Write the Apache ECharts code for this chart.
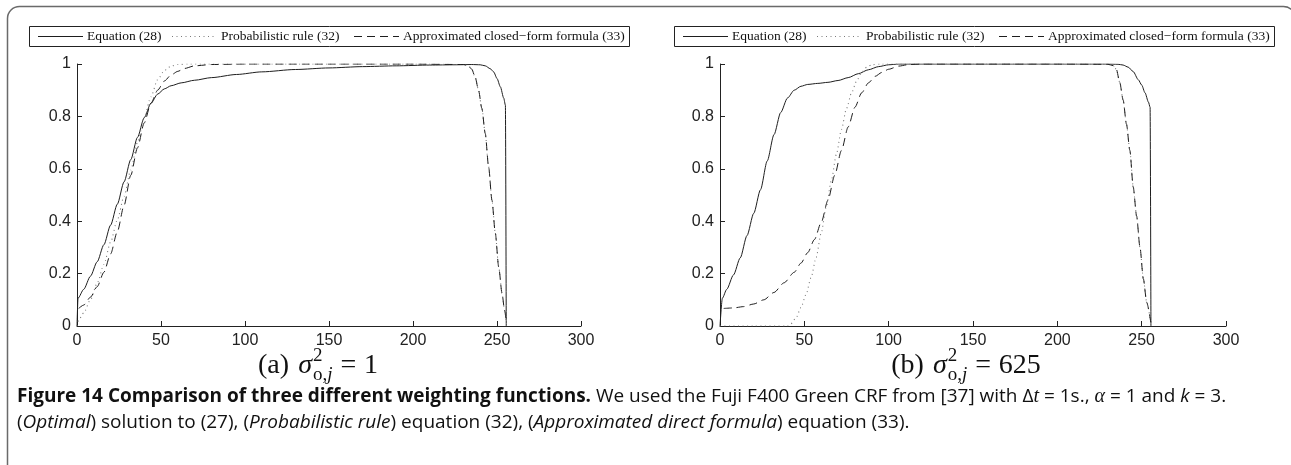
<!DOCTYPE html>
<html>
<head>
<meta charset="utf-8">
<script src="https://cdn.jsdelivr.net/npm/echarts@6/dist/echarts.min.js"></script>
<style>html,body{margin:0;padding:0;background:#fff;}#c{width:1291px;height:465px;}</style>
</head>
<body>
<div id="c"></div>
<script>
// ---- Data: panel (a) sigma^2 = 1 ----
const a_eq_x = [0, 0.6, 4, 8, 12, 16, 20, 24, 28, 32, 36, 40, 44, 48, 52, 56, 62, 70, 80, 95, 110, 130, 150, 170, 190, 210, 225, 235, 240, 243, 246, 248, 250, 252, 254, 255, 255.5];
const a_eq_y = [0, 0.106, 0.14, 0.19, 0.245, 0.31, 0.385, 0.465, 0.55, 0.635, 0.72, 0.795, 0.85, 0.885, 0.905, 0.917, 0.928, 0.938, 0.948, 0.96, 0.97, 0.979, 0.985, 0.99, 0.993, 0.996, 0.997, 0.998, 0.997, 0.993, 0.982, 0.97, 0.945, 0.913, 0.87, 0.843, 0];
const a_pr_x = [0, 1, 4, 8, 12, 16, 20, 24, 28, 32, 36, 40, 44, 48, 52, 56, 60, 66, 100, 150, 200, 230, 233, 235, 237, 239, 241, 243, 245, 247, 249, 251, 253, 254.5, 255.5];
const a_pr_y = [0, 0.023, 0.05, 0.1, 0.163, 0.235, 0.32, 0.405, 0.495, 0.595, 0.7, 0.795, 0.875, 0.94, 0.975, 0.992, 0.998, 1, 1, 1, 1, 0.998, 0.993, 0.98, 0.95, 0.9, 0.83, 0.735, 0.608, 0.48, 0.354, 0.226, 0.125, 0.06, 0.02];
const a_ap_x = [1, 4, 8, 12, 16, 20, 24, 28, 32, 36, 40, 44, 48, 52, 56, 60, 64, 70, 80, 100, 150, 200, 230, 233, 235, 237, 239, 241, 243, 245, 247, 249, 251, 253, 254.5, 255.5];
const a_ap_y = [0.067, 0.08, 0.11, 0.15, 0.205, 0.275, 0.36, 0.46, 0.575, 0.68, 0.775, 0.85, 0.9, 0.935, 0.958, 0.972, 0.983, 0.993, 0.998, 1, 1, 1, 0.998, 0.993, 0.98, 0.95, 0.9, 0.83, 0.735, 0.608, 0.48, 0.354, 0.226, 0.125, 0.06, 0.02];

// ---- Data: panel (b) sigma^2 = 625 ----
const b_eq_x = [0, 1.4, 4, 8, 12, 16, 20, 24, 28, 32, 36, 40, 44, 48, 52, 58, 64, 70, 76, 82, 88, 94, 100, 106, 150, 200, 230, 236, 239, 242, 245, 248, 250, 252, 254, 255, 255.5];
const b_eq_y = [0, 0.106, 0.14, 0.195, 0.26, 0.345, 0.43, 0.52, 0.63, 0.73, 0.815, 0.87, 0.9, 0.915, 0.922, 0.926, 0.93, 0.937, 0.948, 0.963, 0.978, 0.99, 0.997, 1, 1, 1, 1, 0.999, 0.996, 0.988, 0.971, 0.94, 0.92, 0.89, 0.855, 0.835, 0];
const b_pr_x = [0, 20, 40, 42, 45, 48, 51, 54, 57, 60, 63, 66, 69, 72, 75, 78, 81, 84, 87, 90, 95, 150, 200, 230, 233, 235, 237, 239, 241, 243, 245, 247, 249, 251, 253, 255.5];
const b_pr_y = [0, 0, 0, 0.008, 0.03, 0.07, 0.12, 0.185, 0.262, 0.355, 0.455, 0.555, 0.655, 0.75, 0.83, 0.89, 0.935, 0.968, 0.988, 0.997, 1, 1, 1, 0.999, 0.994, 0.98, 0.93, 0.863, 0.77, 0.67, 0.53, 0.42, 0.3, 0.18, 0.09, 0.01];
const b_ap_x = [2.2, 8, 14, 20, 26, 32, 38, 44, 48, 52, 56, 60, 64, 68, 72, 76, 80, 84, 88, 92, 96, 100, 106, 112, 120, 150, 200, 230, 233, 235, 237, 239, 241, 243, 245, 247, 249, 251, 253, 255.5];
const b_ap_y = [0.067, 0.069, 0.074, 0.084, 0.1, 0.128, 0.165, 0.205, 0.24, 0.28, 0.33, 0.395, 0.48, 0.575, 0.67, 0.76, 0.835, 0.89, 0.928, 0.953, 0.968, 0.98, 0.992, 0.998, 1, 1, 1, 0.999, 0.994, 0.98, 0.93, 0.863, 0.77, 0.67, 0.53, 0.42, 0.3, 0.18, 0.09, 0.01];

// ---- Axis ticks and labels ----
const xMin = 0, xMax = 300, xStep = 50;
const yMin = 0, yMax = 1, yStep = 0.2;
const seriesNames = ['Equation (28)', 'Probabilistic rule (32)', 'Approximated closed\u2212form formula (33)'];

const zip = (xs, ys) => xs.map((x, i) => [x, ys[i]]);

const lineStyles = [
  { color: '#1e1e1e', width: 1, type: 'solid' },
  { color: '#7a7a7a', width: 1.1, type: [1, 3.5] },
  { color: '#1e1e1e', width: 1, type: [8, 5] }
];

function mkSeries(name, idx, data, styleIdx) {
  return {
    name: name, type: 'line', xAxisIndex: idx, yAxisIndex: idx,
    data: data, showSymbol: false, symbol: 'none',
    smooth: 0.25, smoothMonotone: 'x',
    lineStyle: lineStyles[styleIdx], itemStyle: { color: lineStyles[styleIdx].color },
    animation: false, silent: true
  };
}

const axisCommonX = (gi) => ({
  type: 'value', gridIndex: gi, min: xMin, max: xMax, interval: xStep,
  axisLine: { lineStyle: { color: '#222', width: 1 } },
  axisTick: { inside: true, length: 5, lineStyle: { color: '#222' } },
  axisLabel: { color: '#222', fontSize: 16, fontFamily: 'Liberation Sans', margin: 7 },
  splitLine: { show: false }
});
const axisCommonY = (gi) => ({
  type: 'value', gridIndex: gi, min: yMin, max: yMax, interval: yStep,
  axisLine: { show: true, lineStyle: { color: '#222', width: 1 } },
  axisTick: { show: true, inside: true, length: 5, lineStyle: { color: '#222' } },
  axisLabel: { color: '#222', fontSize: 16, fontFamily: 'Liberation Sans', margin: 6,
    formatter: v => String(Math.round(v * 10) / 10) },
  splitLine: { show: false }
});

// ---- text measure ----
const mctx = document.createElement('canvas').getContext('2d');
function tw(text, font) { mctx.font = font; return mctx.measureText(text).width; }

// ---- custom legend box (layout only) ----
function legendBox(ox) {
  const F = '13.5px "Liberation Serif"';
  const cy = 36.5;
  const items = [
    { s: 38, t: 87, st: 0 },
    { s: 172, t: 221, st: 1 },
    { s: 354, t: 403, st: 2 }
  ];
  const els = [{ type: 'rect', shape: { x: ox + 29.5, y: 26.5, width: 600, height: 20 }, style: { fill: '#fff', stroke: '#222', lineWidth: 1 } }];
  items.forEach((it, i) => {
    const ls = lineStyles[it.st];
    els.push({ type: 'line', shape: { x1: ox + it.s, y1: cy, x2: ox + it.s + 45, y2: cy },
      style: { stroke: ls.color, lineWidth: ls.width, lineDash: ls.type === 'solid' ? null : ls.type } });
    els.push({ type: 'text', x: ox + it.t, y: cy, style: { text: seriesNames[i], font: F, fill: '#111', verticalAlign: 'middle', textVerticalAlign: 'middle' } });
  });
  return els;
}

function subCaption(cx, cy, label, value) {
  const F = 'Liberation Serif';
  const big = 28, small = 19;
  const fb = big + 'px "' + F + '"', fbi = 'italic ' + big + 'px "' + F + '"';
  const fs = small + 'px "' + F + '"', fsi = 'italic ' + small + 'px "' + F + '"';
  const p1 = label;
  const w1 = tw(p1, fb) + big * 0.33;
  const w2 = tw('\u03c3', fbi);
  const wsup = tw('2', fs);
  const wsubA = tw('o,', fs);
  const wsubB = tw('j', fsi);
  const ws = Math.max(wsup, wsubA + wsubB) + big * 0.28;
  const weq = tw('=', fb) + big * 0.28;
  const w3 = tw(value, fb);
  const total = w1 + w2 + 1 + ws + weq + w3;
  let x = cx - total / 2;
  const els = [];
  const base = { fill: '#111', verticalAlign: 'middle', textVerticalAlign: 'middle' };
  const add = (t, xx, yy, f) => els.push({ type: 'text', x: xx, y: yy, style: Object.assign({}, base, { text: t, font: f }) });
  add(p1, x, cy, fb); x += w1;
  add('\u03c3', x, cy, fbi); x += w2 + 1;
  add('2', x, cy - 10, fs);
  add('o,', x, cy + 9, fs);
  add('j', x + wsubA, cy + 9, fsi);
  x += ws;
  add('=', x, cy, fb); x += weq;
  add(value, x, cy, fb);
  return els;
}

const capFont = 'Open Sans';
const capSize = 19;
const caption1 = {
  type: 'text', left: 17, top: 387,
  style: {
    text: '{b|Figure 14 Comparison of three different weighting functions.}{n| We used the Fuji F400 Green CRF from [37] with }{n|\u0394}{mi|t}{n| = 1s., }{mi|\u03b1}{n| = 1 and }{ki|k}{n| = 3.}',
    rich: {
      b: { fontFamily: capFont, fontWeight: 'bold', fontSize: capSize, fill: '#111', color: '#111' },
      n: { fontFamily: capFont, fontSize: capSize, fill: '#111', color: '#111' },
      mi: { fontFamily: 'Liberation Serif', fontStyle: 'italic', fontSize: capSize + 1, fill: '#111', color: '#111' },
      ki: { fontFamily: capFont, fontStyle: 'italic', fontSize: capSize, fill: '#111', color: '#111' }
    }
  }
};
const caption2 = {
  type: 'text', left: 17, top: 413,
  style: {
    text: '{n|(}{i|Optimal}{n|) solution to (27), (}{i|Probabilistic rule}{n|) equation (32), (}{i|Approximated direct formula}{n|) equation (33).}',
    rich: {
      n: { fontFamily: capFont, fontSize: capSize, fill: '#111', color: '#111' },
      i: { fontFamily: capFont, fontStyle: 'italic', fontSize: capSize, fill: '#111', color: '#111' }
    }
  }
};

const chart = echarts.init(document.getElementById('c'), null, { renderer: 'canvas' });
const option = {
  animation: false,
  backgroundColor: '#fff',
  grid: [
    { left: 77, top: 64, width: 504, height: 262, containLabel: false },
    { left: 720, top: 64, width: 506, height: 262, containLabel: false }
  ],
  xAxis: [axisCommonX(0), axisCommonX(1)],
  yAxis: [axisCommonY(0), axisCommonY(1)],
  series: [
    mkSeries(seriesNames[0], 0, zip(a_eq_x, a_eq_y), 0),
    mkSeries(seriesNames[1], 0, zip(a_pr_x, a_pr_y), 1),
    mkSeries(seriesNames[2], 0, zip(a_ap_x, a_ap_y), 2),
    mkSeries(seriesNames[0], 1, zip(b_eq_x, b_eq_y), 0),
    mkSeries(seriesNames[1], 1, zip(b_pr_x, b_pr_y), 1),
    mkSeries(seriesNames[2], 1, zip(b_ap_x, b_ap_y), 2)
  ],
  graphic: [
    { type: 'rect', shape: { x: 7.5, y: 6.5, width: 1288, height: 520, r: 12 }, style: { fill: 'none', stroke: '#6a6a6a', lineWidth: 1.5 }, z: -1, silent: true },
    { type: 'group', children: legendBox(0), silent: true },
    { type: 'group', children: legendBox(645), silent: true },
    { type: 'group', children: subCaption(318, 366, '(a)', '1') },
    { type: 'group', children: subCaption(966, 366, '(b)', '625') },
    caption1,
    caption2
  ]
};
chart.setOption(option);
</script>
</body>
</html>
